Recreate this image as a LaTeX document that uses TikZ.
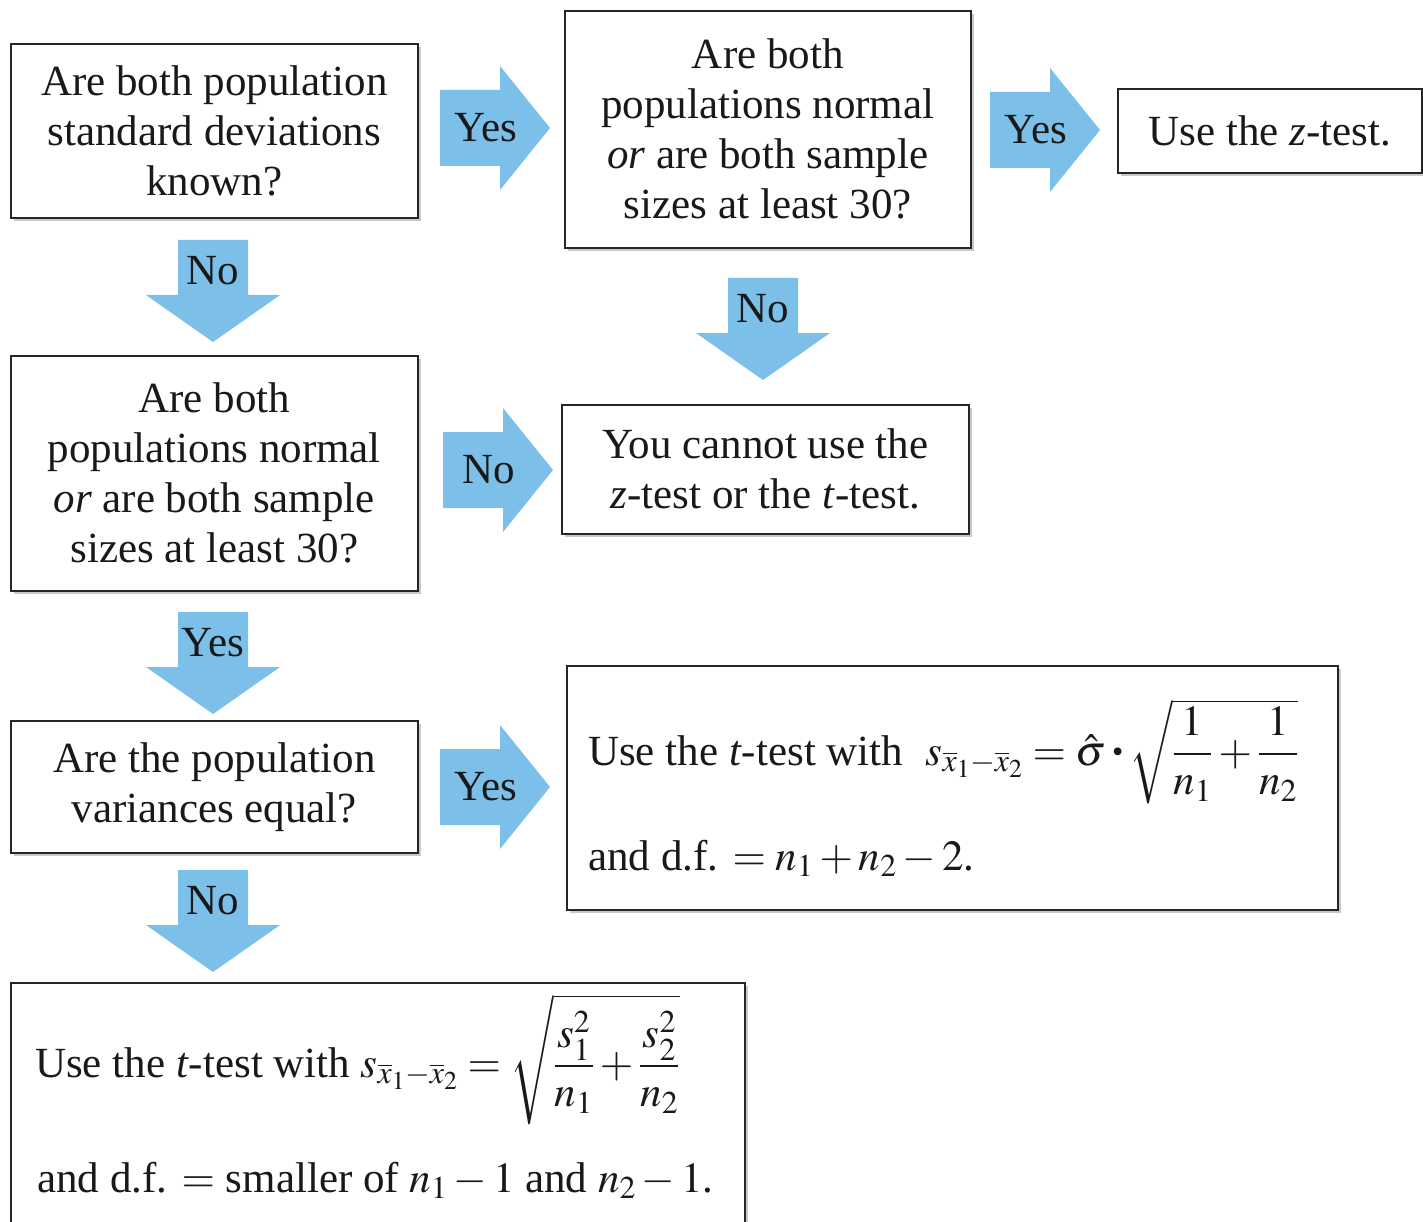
\documentclass[tikz,border=0pt]{standalone}
\usepackage{amsmath}
\usepackage{mathptmx}
\usepackage{fontspec}
\setmainfont{Liberation Serif}
\usetikzlibrary{shadows,calc}
\definecolor{arrowblue}{RGB}{124,192,234}
\newcommand{\mybul}{\mathbin{\raisebox{0.12ex}{\scalebox{0.75}{\textbullet}}}}
\tikzset{
  box/.style={draw=black!85, line width=1.6pt, fill=white,
    drop shadow={shadow xshift=3pt, shadow yshift=-3pt, opacity=0.35, fill=black!60},
    align=center, anchor=north west, inner sep=0pt},
  txt/.style={anchor=base west, inner sep=0pt},
  rarr/.pic={\fill[arrowblue] (0,-38) -- (60,-38) -- (60,-62) -- (110,0) -- (60,62) -- (60,38) -- (0,38) -- cycle;
             \node (-t) at (46,0) {#1};},
  darr/.pic={\fill[arrowblue] (-35,0) -- (-35,55) -- (-67,55) -- (0,102) -- (67,55) -- (35,55) -- (35,0) -- cycle;
             \node (-t) at (0,31) {#1};}
}
\begin{document}
\begin{tikzpicture}[x=1pt,y=-1pt, every node/.style={font=\fontsize{43}{50}\selectfont, text=black!90}]
\fill[white] (0,0) rectangle (1423,1222);
\useasboundingbox (0,0) rectangle (1423,1222);

\node[box, minimum width=407pt, minimum height=174pt] (b1) at (10,43)
  {Are both population\\standard deviations\\known?};
\node[box, minimum width=406pt, minimum height=237pt] (b2) at (564,10)
  {Are both\\populations normal\\\textit{or} are both sample\\sizes at least 30?};
\node[box, minimum width=304pt, minimum height=84pt] (b3) at (1117,88)
  {Use the \textit{z}-test.};
\node[box, minimum width=407pt, minimum height=235pt] (b4) at (10,355)
  {Are both\\populations normal\\\textit{or} are both sample\\sizes at least 30?};
\node[box, minimum width=407pt, minimum height=129pt] (b5) at (561,404)
  {You cannot use the\\\textit{z}-test or the \textit{t}-test.};
\node[box, minimum width=407pt, minimum height=132pt] (b6) at (10,720)
  {Are the population\\variances equal?};
\node[box, minimum width=771pt, minimum height=244pt] (b7) at (566,665) {};
\node[box, minimum width=734pt, minimum height=248pt] (b8) at (10,982) {};

\node[txt] (t7a) at (588,765)
  {Use the \textit{t}-test with\; $s_{\overline{x}_1-\overline{x}_2}=\hat{\sigma}\mybul\sqrt{\dfrac{1}{n_1}+\dfrac{1}{n_2}}$};
\node[txt] (t7b) at (588,870) {and d.f. $=n_1+n_2-2$.};
\node[txt] (t8a) at (35,1077)
  {Use the \textit{t}-test with $s_{\overline{x}_1-\overline{x}_2}=\sqrt{\dfrac{s_1^2}{n_1}+\dfrac{s_2^2}{n_2}}$};
\node[txt] (t8b) at (37,1192) {and d.f. $=$ smaller of $n_1-1$ and $n_2-1$.};

\pic (r1) at (440,128) {rarr=Yes};
\pic (r2) at (990,130) {rarr=Yes};
\pic (r3) at (443,470) {rarr=No};
\pic (r4) at (440,787) {rarr=Yes};
\pic (d1) at (213,240) {darr=No};
\pic (d2) at (763,278) {darr=No};
\pic (d3) at (213,612) {darr=Yes};
\pic (d4) at (213,870) {darr=No};
\end{tikzpicture}
\end{document}
